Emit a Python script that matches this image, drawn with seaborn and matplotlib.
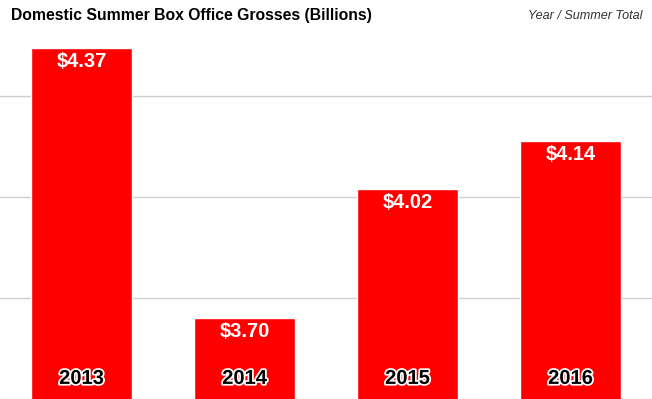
import numpy as np
import pandas as pd
import matplotlib
matplotlib.use('Agg')
import matplotlib.pyplot as plt
import matplotlib.patheffects as pe
import seaborn as sns

years = ['2013', '2014', '2015', '2016']
grosses = [4.37, 3.70, 4.02, 4.14]
value_labels = ['$4.37', '$3.70', '$4.02', '$4.14']

df = pd.DataFrame({'year': years, 'gross': grosses})

sns.set_style('white')
plt.rcParams['font.family'] = ['Liberation Sans', 'DejaVu Sans']

fig = plt.figure(figsize=(6.52, 3.99), dpi=100)
ax = fig.add_axes([0, 0.5 / 399, 1, 398.5 / 399])

sns.barplot(data=df, x='year', y='gross', color='#ff0000', saturation=1,
            width=0.614, ax=ax, zorder=3)

ax.set_xlim(-0.5, 3.5)
ax.set_ylim(3.5, 3.5 + 398.5 / 403)
ax.set_yticks([3.5, 3.75, 4.0, 4.25])
ax.yaxis.grid(True, color='#cccccc', linewidth=1, zorder=0)
ax.set_axisbelow(True)
ax.tick_params(left=False, bottom=False, labelleft=False, labelbottom=False)
ax.set_xlabel('')
ax.set_ylabel('')
for s in ax.spines.values():
    s.set_visible(False)

for i, (v, lab) in enumerate(zip(grosses, value_labels)):
    ax.annotate(lab, (i, v), xytext=(0, -3.2), textcoords='offset points',
                ha='center', va='top', color='white', fontsize=14.5,
                fontweight='bold')
    ax.annotate(years[i], (i, 3.5), xytext=(0, 10.5), textcoords='offset points',
                ha='center', va='baseline', color='black', fontsize=14.5,
                fontweight='bold',
                path_effects=[pe.withStroke(linewidth=2.5, foreground='white')])

fig.text(11 / 652, 1 - 20 / 399, 'Domestic Summer Box Office Grosses (Billions)',
         ha='left', va='baseline', fontsize=11.3, fontweight='bold', color='black')
fig.text(642 / 652, 1 - 19 / 399, 'Year / Summer Total',
         ha='right', va='baseline', fontsize=9.1, style='italic', color='#333333')

fig.savefig('out.png', dpi=100)
